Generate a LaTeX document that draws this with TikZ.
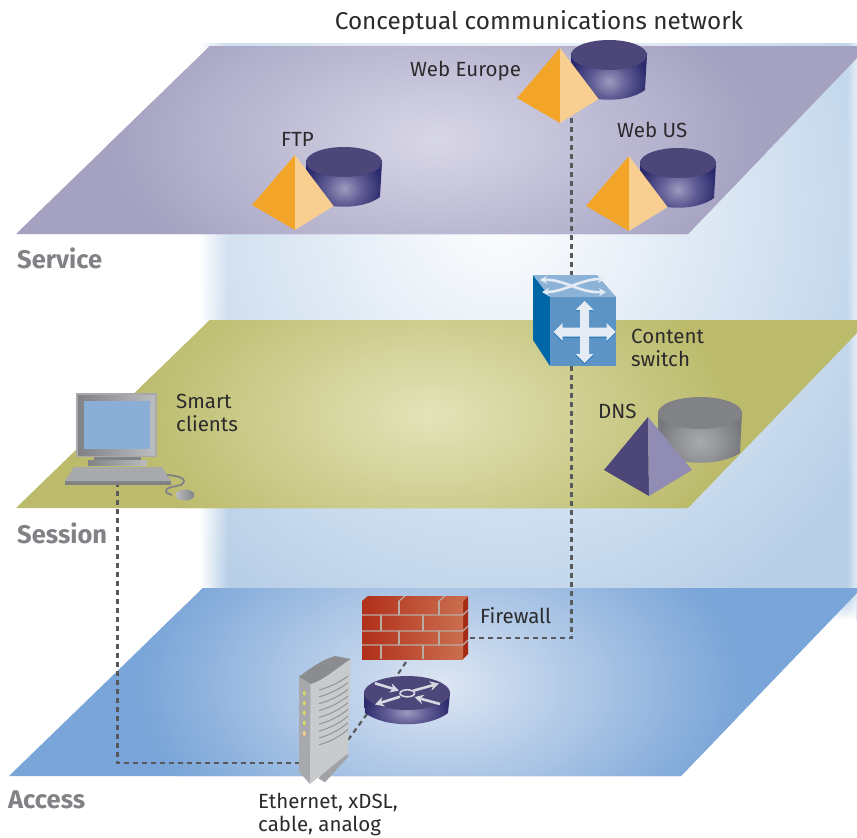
\documentclass[tikz,border=0pt]{standalone}
\usepackage{fontspec}
\setmainfont{Fira Sans}
\usetikzlibrary{arrows.meta,fadings}
\definecolor{linkc}{HTML}{58595B}
\definecolor{txt}{HTML}{2B2A2C}
\definecolor{layerc}{HTML}{808285}
\definecolor{orL}{HTML}{F3A52A}
\definecolor{orR}{HTML}{F9CF91}
\definecolor{puL}{HTML}{4C4679}
\definecolor{puR}{HTML}{918CB4}
\definecolor{cylHi}{HTML}{9C9BBE}
\definecolor{cylMid}{HTML}{5F5B94}
\definecolor{cylLo}{HTML}{2B2A6C}
\definecolor{gyHi}{HTML}{A8A9AC}
\definecolor{gyMid}{HTML}{939598}
\definecolor{gyLo}{HTML}{77787B}
\definecolor{gyTop}{HTML}{808285}
\definecolor{arrowc}{HTML}{E4EBF5}
\definecolor{mortarc}{HTML}{B8ACA3}
\definecolor{routerc}{HTML}{D8D8E2}
\definecolor{bgOut}{HTML}{B8CFE7}
\definecolor{svIn}{HTML}{D8D7E7}
\definecolor{svOut}{HTML}{A4A1C1}
\definecolor{seIn}{HTML}{E3E3B9}
\definecolor{seOut}{HTML}{BCBB6C}
\definecolor{acIn}{HTML}{DDE6F3}
\definecolor{acOut}{HTML}{7AA5D8}
\definecolor{swL}{HTML}{0066A6}
\definecolor{swF}{HTML}{5C94C6}
\definecolor{swT}{HTML}{8DB2D8}
\definecolor{swS}{HTML}{1A6FAE}
\definecolor{pcA}{HTML}{808285}
\definecolor{pcB}{HTML}{BCBDC0}
\definecolor{pcC}{HTML}{A7A9AC}
\definecolor{pcS}{HTML}{8AAED6}
\definecolor{fwA}{HTML}{B1301A}
\definecolor{fwB}{HTML}{CB6E50}
\definecolor{fwS}{HTML}{A62B14}
\definecolor{moL}{HTML}{A7A9AC}
\definecolor{moR}{HTML}{C9CACC}
\definecolor{moT}{HTML}{8A8C8F}
\definecolor{moB}{HTML}{A0A2A5}
\pgfdeclareradialshading{cylblue}{\pgfpoint{0bp}{0bp}}{color(0bp)=(cylHi); color(12bp)=(cylMid); color(25bp)=(cylLo); color(50bp)=(cylLo)}
\pgfdeclareradialshading{cylgrey}{\pgfpoint{0bp}{0bp}}{color(0bp)=(gyHi); color(12bp)=(gyMid); color(25bp)=(gyLo); color(50bp)=(gyLo)}
\tikzset{
  link/.style={draw=linkc,line width=2.2pt,dash pattern=on 5pt off 4pt},
  lbl/.style={anchor=base west,inner sep=0pt,text=txt,font=\fontsize{20.5}{23}\selectfont},
  lbl2/.style={anchor=north west,inner sep=0pt,text=txt,align=left,font=\fontsize{20.5}{23}\selectfont},
  layer/.style={anchor=base west,inner sep=0pt,text=layerc,font=\fontsize{25.5}{30}\selectfont\bfseries},
  mortar/.style={draw=mortarc,line width=1.2pt},
  rarrow/.style={draw=routerc,line width=2.6pt,-{Stealth[length=9pt,width=9.5pt]}},
}
% cylinder: cx, cy of top ellipse, rx, ry, shading name, top colour, corner drop, control drop
\newcommand{\drawcyl}[8]{%
  \begin{scope}
    \clip ({#1-#3},#2) -- ({#1-#3+1},{#2+#7}) .. controls ({#1-#3*0.5},{#2+#8}) and ({#1+#3*0.5},{#2+#8}) .. ({#1+#3-2},{#2+#7}) -- ({#1+#3},#2) -- ({#1+#3},{#2-2}) -- ({#1-#3},{#2-2}) -- cycle;
    \shade[shading=#5] ({#1-#3*1.02},{#2-#8*0.15}) rectangle ({#1+#3*1.02},{#2+#8*1.25});
  \end{scope}
  \fill[#6] (#1,#2) ellipse ({#3} and {#4});
}
\newcommand{\drawpyr}[6]{% apex ; left ; bottom ; right ; colours
  \fill[#5] #1 -- #2 -- #3 -- cycle;
  \fill[#6] #1 -- #4 -- #3 -- cycle;
}
\newcommand{\server}[2]{%
  \drawcyl{#1+49}{#2+7}{38}{15}{cylblue}{puL}{35}{48}
  \drawpyr{(#1,#2)}{({#1-43},{#2+50})}{(#1,{#2+75})}{({#1+38.5},{#2+51})}{orL}{orR}
}
\newcommand{\planefill}[7]{% polygon; centre x,y; rx; ry; inner; outer
  \begin{scope}
    \clip #1;
    \fill[#7] (0,0) rectangle (857,838);
    \shade[inner color=#6,outer color=#7] (#2,#3) ellipse (#4 and #5);
  \end{scope}
}
\begin{document}
\begin{tikzpicture}[x=1pt,y=-1pt]
\path[use as bounding box,fill=white] (0,0) rectangle (857,838);
% backdrop
\begin{scope}
  \clip (200,43) rectangle (857,620);
  \fill[bgOut] (200,43) rectangle (857,620);
  \shade[inner color=white,outer color=bgOut] (500,200) ellipse (440 and 470);
  \fill[white,path fading=east] (200,43) rectangle (228,620);
  \fill[white,path fading=west,opacity=.6] (847,43) rectangle (857,620);
  \fill[white,path fading=north] (200,596) rectangle (857,620);
\end{scope}
% layers
\planefill{(210,46) -- (857,46) -- (857,58) -- (688,234) -- (16,234) -- cycle}{436}{140}{330}{170}{svIn}{svOut}
\planefill{(210,320) -- (857,320) -- (857,333) -- (688,508) -- (16,508) -- cycle}{430}{415}{300}{170}{seIn}{seOut}
\planefill{(203,588) -- (857,588) -- (857,593) -- (681,776) -- (9,776) -- cycle}{440}{685}{300}{190}{acIn}{acOut}
% labels of layers and title
\node[anchor=base,inner sep=0pt,text=txt,font=\fontsize{24.3}{26}\selectfont] (title) at (539,29) {Conceptual communications network};
\node[layer] (service) at (17,268) {Service};
\node[layer] (session) at (17,543) {Session};
\node[layer] (access) at (8,808) {Access};
% connector ends
\coordinate (webeuPort) at (571.5,118);
\coordinate (swTop) at (571.5,275);
\coordinate (swBottom) at (571.5,366);
\coordinate (fwRight) at (468,638);
\coordinate (fwBottom) at (406,662);
\coordinate (rtTop) at (394,680);
\coordinate (rtLeft) at (367,714);
\coordinate (modemRight) at (348,740);
\coordinate (modemLeft) at (300,763);
\coordinate (pcBottom) at (117.5,485);
% connectors
\draw[link] (webeuPort) -- (swTop);
\draw[link] (swBottom) -- (swBottom |- fwRight) -- (fwRight);
\draw[link] (fwBottom) -- (rtTop);
\draw[link] (rtLeft) -- (modemRight);
\draw[link] (modemLeft) -- (pcBottom |- modemLeft) -- (pcBottom);
% servers
\server{560}{48}
\server{295}{155}
\server{629}{156}
% DNS
\drawcyl{700}{413}{42}{16}{cylgrey}{gyTop}{40}{53}
\drawpyr{(648,417)}{(604,470)}{(649,496)}{(692,470)}{puL}{puR}
% content switch
\fill[swL] (533,275) -- (550,297) -- (550,366) -- (533,340) -- cycle;
\fill[swF] (550,297) rectangle (616,366);
\fill[swT] (533,275) -- (597,275) -- (616,297) -- (550,297) -- cycle;
\foreach \dy/\col in {1.2/swS,0/arrowc}{
  \fill[\col,shift={(584.5,{332+\dy})}] (4.5,-4.5) -- (4.5,-22) -- (9,-22) -- (0,-31) -- (-9,-22) -- (-4.5,-22) -- (-4.5,-4.5) -- (-22,-4.5) -- (-22,-9) -- (-31,0) -- (-22,9) -- (-22,4.5) -- (-4.5,4.5) -- (-4.5,22) -- (-9,22) -- (0,31) -- (9,22) -- (4.5,22) -- (4.5,4.5) -- (22,4.5) -- (22,9) -- (31,0) -- (22,-9) -- (22,-4.5) -- cycle;
}
\draw[arrowc,line width=2.6pt,{Stealth[length=7pt,width=8pt]}-{Stealth[length=7pt,width=8pt]}] (540,280) .. controls (565,279) and (578,293) .. (606,292);
\draw[arrowc,line width=2.6pt,{Stealth[length=7pt,width=8pt]}-{Stealth[length=7pt,width=8pt]}] (542,292) .. controls (565,292) and (580,279) .. (605,279);
% smart client
\fill[pcC] (76,393) rectangle (157,457);
\shade[left color=pcA,right color=pcB] (78,395) rectangle (155,455);
\fill[pcS] (84,401) rectangle (150,449);
\shade[left color=pcA,right color=pcB] (88,460) rectangle (147,465);
\fill[pcA] (94,457) rectangle (141,460);
\fill[pcA] (65,481) rectangle (171,485);
\shade[left color=pcC,middle color=pcB!80!white,right color=pcC] (74,467) -- (162,467) -- (171,481) -- (65,481) -- cycle;
\draw[pcA,line width=1.8pt] (167,475) .. controls (182,476) and (188,480) .. (181,485) .. controls (174,487) and (163,487) .. (167,493) -- (172,495);
\shade[left color=pcB,right color=pcA] (185,495) ellipse (9.5 and 5.5);
% firewall
\fill[fwS] (463,601) -- (468,596) -- (468,654) -- (463,659) -- cycle;
\shade[left color=fwA,right color=fwB] (362,601) -- (368,596) -- (468,596) -- (463,601) -- cycle;
\shade[left color=fwA,middle color=fwA,right color=fwB] (362,601) rectangle (463,659);
\foreach \y in {615,631,645}{
  \draw[mortar] (362,\y) -- (463,\y) -- (468,{\y-5});
}
\draw[mortar] (399,601) -- (405,596) (439,601) -- (445,596);
\draw[mortar] (399,601) -- (399,615) (439,601) -- (439,615);
\draw[mortar] (381,615) -- (381,631) (423,615) -- (423,631);
\draw[mortar] (399,631) -- (399,645) (439,631) -- (439,645);
\draw[mortar] (381,645) -- (381,659) (423,645) -- (423,659);
% router
\drawcyl{407}{693}{43}{17}{cylblue}{puL}{20}{35}
\draw[routerc,line width=1.6pt] (407.3,693.3) ellipse (7.3 and 3.5);
\draw[rarrow] (413.3,690.7) -- (439,683.5);
\draw[rarrow] (400,696.7) -- (375,704.5);
\draw[rarrow] (375,683.3) -- (399,690.5);
\draw[rarrow] (440,704) -- (414.5,697);
% modem
\fill[moB] (318.3,778.3) -- (346.7,751.7) -- (348.3,756.7) -- (325,782.3) -- cycle;
\fill[moL] (299,676.7) -- (310.7,684) -- (310,784) -- (299,771.7) -- cycle;
\fill[moR] (310.7,684) .. controls (324,680) and (338,667) .. (350.7,659) -- (348,753.3) -- (310,784) -- cycle;
\fill[moT] (299,676.7) .. controls (312,667) and (322,660) .. (335,656) -- (350.7,659) .. controls (338,667) and (324,680) .. (310.7,684) -- cycle;
\foreach \i in {0,...,8}{
  \draw[moL!85!black,line width=.9pt] (319,{690+6.85*\i}) .. controls (330,{687+6.85*\i}) and (340,{682+6.8*\i}) .. (348,{676+6.67*\i});
}
\foreach \y in {693.3,703.3,713,723}{
  \fill[yellow!60!moL] (304.3,\y) ellipse (1.3 and 2.4);
}
\fill[orR!85!orL] (304.3,733.5) ellipse (1.5 and 2.6);
% labels
\node[lbl] (lwebeu) at (410,76) {Web Europe};
\node[lbl] (lftp) at (281,146) {FTP};
\node[lbl] (lwebus) at (617,137) {Web US};
\node[lbl2] (lsmart) at (176,394) {Smart\\clients};
\node[lbl2] (lcontent) at (631,329) {Content\\switch};
\node[lbl] (ldns) at (598,418) {DNS};
\node[lbl] (lfw) at (480,623) {Firewall};
\node[lbl2] (lether) at (258,793) {Ethernet, xDSL,\\cable, analog};
\end{tikzpicture}
\end{document}
